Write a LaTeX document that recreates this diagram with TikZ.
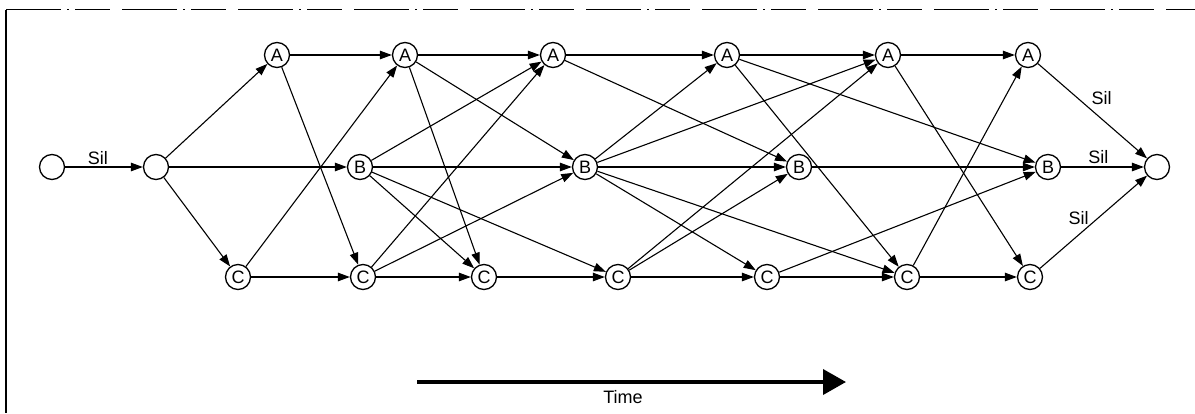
\documentclass[tikz,border=0pt]{standalone}
\usepackage{fontspec}
\setmainfont{Liberation Sans}
\usetikzlibrary{arrows.meta}
\begin{document}
\begin{tikzpicture}[x=1pt,y=-1pt,
  st/.style={circle,draw,line width=1.3pt,minimum size=25pt,inner sep=0pt,
    font=\fontsize{18}{18}\selectfont},
  est/.style={circle,draw,line width=1.3pt,minimum size=25pt,inner sep=0pt},
  arr/.style={-{Triangle[length=12pt,width=8.5pt]},line width=1.1pt},
  lab/.style={font=\fontsize{18}{18}\selectfont,inner sep=1pt}]
\useasboundingbox (0,0) rectangle (1195,413);
% frame
\draw[line width=1.1pt] (6,10) -- (6,413);
\draw[line width=1pt,dash pattern=on 55pt off 6pt on 2pt off 6pt on 35pt off 12pt] (6,9.5) -- (1195,9.5);
% nodes
\node[est] (S0) at (52,167) {};
\node[est] (S1) at (156,167) {};
\node[est] (E) at (1157,167) {};
\node[st] (A1) at (277,55) {A};
\node[st] (A2) at (405,55) {A};
\node[st] (A3) at (553,55) {A};
\node[st] (A4) at (727,55) {A};
\node[st] (A5) at (888,55) {A};
\node[st] (A6) at (1028,55) {A};
\node[st] (B1) at (360,167) {B};
\node[st] (B2) at (585,167) {B};
\node[st] (B3) at (799,167) {B};
\node[st] (B4) at (1048,167) {B};
\node[st] (C1) at (238,277) {C};
\node[st] (C2) at (363,277) {C};
\node[st] (C3) at (484,277) {C};
\node[st] (C4) at (618,277) {C};
\node[st] (C5) at (767,277) {C};
\node[st] (C6) at (907,277) {C};
\node[st] (C7) at (1030,277) {C};
% edges
\draw[arr] (S0) -- node[lab,pos=0.42,above=1pt] {Sil} (S1);
\foreach \a/\b in {S1/A1,S1/B1,S1/C1,
  A1/A2,A1/C2,C1/A2,C1/C2,
  A2/A3,A2/B2,A2/C3,
  B1/A3,B1/B2,B1/C3,B1/C4,
  C2/A3,C2/B2,C2/C3,
  A3/A4,A3/B3,
  B2/A4,B2/A5,B2/B3,B2/C5,B2/C6,
  C3/C4,
  C4/A5,C4/B3,C4/C5,
  A4/A5,A4/B4,A4/C6,
  C5/B4,C5/C6,
  B3/B4,
  A5/A6,A5/C7,
  C6/A6,C6/C7}
  \draw[arr] (\a) -- (\b);
\draw[arr] (A6) -- node[lab,pos=0.45,anchor=south west,xshift=3pt] {Sil} (E);
\draw[arr] (B4) -- node[lab,pos=0.45,above=2pt] {Sil} (E);
\draw[arr] (C7) -- node[lab,pos=0.45,anchor=south east,xshift=2pt] {Sil} (E);
% time arrow
\coordinate (t1) at (417,382);
\coordinate (t2) at (846,382);
\draw[line width=3.8pt,-{Triangle[length=23pt,width=25pt]}] (t1) -- (t2);
\node[lab] (time) at (623,397) {Time};
\end{tikzpicture}
\end{document}
